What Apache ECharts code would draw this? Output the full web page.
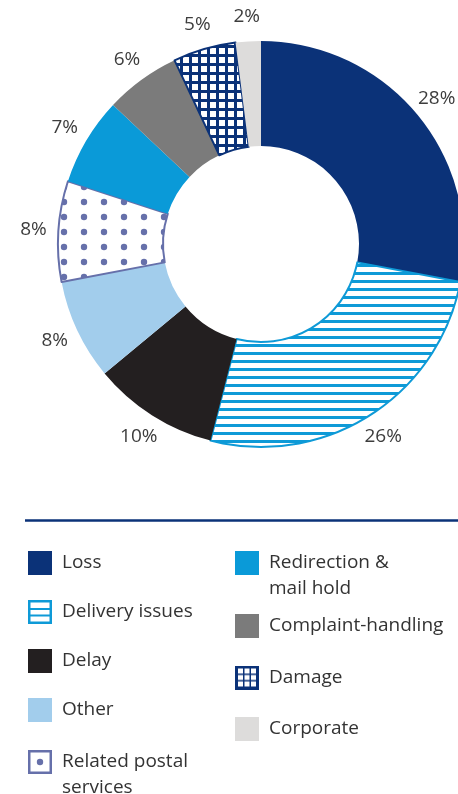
<!DOCTYPE html>
<html>
<head>
<meta charset="utf-8">
<script src="https://cdn.jsdelivr.net/npm/echarts@6/dist/echarts.min.js"></script>
<style>
  html, body { margin: 0; padding: 0; background: #fff; }
  #main { width: 458px; height: 794px; }
</style>
</head>
<body>
<div id="main"></div>
<script>
// complaint categories, clockwise from 12 o'clock
var categories = ['Loss', 'Delivery issues', 'Delay', 'Other', 'Related postal services',
  'Redirection & mail hold', 'Complaint-handling', 'Damage', 'Corporate'];
var shares = [28, 26, 10, 8, 8, 7, 6, 5, 2];
var legendText = ['Loss', 'Delivery issues', 'Delay', 'Other', 'Related postal\nservices',
  'Redirection &\nmail hold', 'Complaint-handling', 'Damage', 'Corporate'];

var navy = '#0b3278';
var cyan = '#0e9ad7';
var dotBlue = '#6670aa';
var font = 'Open Sans';

function tile(w, h, draw) {
  var c = document.createElement('canvas');
  c.width = w;
  c.height = h;
  draw(c.getContext('2d'), w, h);
  return c;
}

// fills for the slices
var stripeTile = tile(8, 8, function (ctx) {
  ctx.fillStyle = '#fff'; ctx.fillRect(0, 0, 8, 8);
  ctx.fillStyle = cyan; ctx.fillRect(0, 0, 8, 3);
});
var dotTile = tile(20, 15, function (ctx) {
  ctx.fillStyle = '#fff'; ctx.fillRect(0, 0, 20, 15);
  ctx.fillStyle = dotBlue; ctx.beginPath(); ctx.arc(4, 7, 3.2, 0, Math.PI * 2); ctx.fill();
});
var gridTile = tile(9, 9, function (ctx) {
  ctx.fillStyle = navy; ctx.fillRect(0, 0, 9, 9);
  ctx.fillStyle = '#fff'; ctx.fillRect(3, 3, 6, 6);
});

// legend icons for the patterned items
var stripeIcon = tile(24, 24, function (ctx) {
  ctx.fillStyle = '#fff'; ctx.fillRect(0, 0, 24, 24);
  ctx.strokeStyle = cyan; ctx.lineWidth = 2.5; ctx.strokeRect(1.25, 1.25, 21.5, 21.5);
  ctx.fillStyle = cyan; ctx.fillRect(0, 8, 24, 2); ctx.fillRect(0, 14.5, 24, 2);
});
var dotIcon = tile(24, 24, function (ctx) {
  ctx.fillStyle = '#fff'; ctx.fillRect(0, 0, 24, 24);
  ctx.strokeStyle = dotBlue; ctx.lineWidth = 2.5; ctx.strokeRect(1.25, 1.25, 21.5, 21.5);
  ctx.fillStyle = dotBlue; ctx.beginPath(); ctx.arc(12, 12, 3.2, 0, Math.PI * 2); ctx.fill();
});
var gridIcon = tile(24, 24, function (ctx) {
  ctx.fillStyle = navy; ctx.fillRect(0, 0, 24, 24);
  ctx.fillStyle = '#fff';
  for (var r = 0; r < 3; r++) {
    for (var c = 0; c < 3; c++) {
      ctx.fillRect(3 + c * 6.5, 3 + r * 6.5, 5, 5);
    }
  }
});

var sliceStyles = [
  { color: navy },
  { color: { image: stripeTile, repeat: 'repeat' }, borderColor: cyan, borderWidth: 2 },
  { color: '#231f20' },
  { color: '#a2cdec' },
  { color: { image: dotTile, repeat: 'repeat' }, borderColor: dotBlue, borderWidth: 2 },
  { color: '#0a9ad8' },
  { color: '#7b7b7b' },
  { color: { image: gridTile, repeat: 'repeat' }, borderColor: navy, borderWidth: 2 },
  { color: '#dddcdb' }
];
var legendIcons = [null, stripeIcon, null, null, dotIcon, null, null, gridIcon, null];

var center = [261, 244];
var labelRadius = 228;
var total = shares.reduce(function (a, b) { return a + b; }, 0);

function legendItem(i) {
  var item = { name: categories[i], icon: 'rect' };
  if (legendIcons[i]) item.icon = 'image://' + legendIcons[i].toDataURL();
  if (legendText[i].indexOf('\n') >= 0) item.textStyle = { lineHeight: 26 };
  return item;
}

// two-line entries get a blank line in front so their first line sits level with the box
function legendLabel(name) {
  var t = legendText[categories.indexOf(name)];
  return t.indexOf('\n') >= 0 ? ' \n' + t : t;
}

function legend(left, top, gap, idx) {
  return {
    orient: 'vertical',
    left: left,
    top: top,
    padding: 0,
    itemWidth: 24,
    itemHeight: 24,
    itemGap: gap,
    selectedMode: false,
    data: idx.map(legendItem),
    formatter: legendLabel,
    textStyle: { fontFamily: font, fontSize: 19, color: '#333', lineHeight: 24, padding: [0, 0, 0, 5] }
  };
}

var chart = echarts.init(document.getElementById('main'));
chart.setOption({
  animation: false,
  legend: [
    legend(28, 551, 25, [0, 1, 2, 3]),
    legend(28, 750 - 27, 25, [4]),
    legend(235, 551 - 27, 25, [5]),
    legend(235, 614, 27.5, [6, 7, 8])
  ],
  graphic: [{
    type: 'line',
    shape: { x1: 25, y1: 520.5, x2: 458, y2: 520.5 },
    style: { stroke: navy, lineWidth: 2.5 }
  }],
  series: [{
    type: 'pie',
    center: center,
    radius: [98, 203],
    startAngle: 90,
    clockwise: true,
    avoidLabelOverlap: false,
    data: categories.map(function (n, i) {
      return { name: n, value: shares[i], itemStyle: sliceStyles[i] };
    }),
    label: {
      show: true,
      position: 'outside',
      formatter: '{c}%',
      fontFamily: font,
      fontSize: 19,
      color: '#3d3d3d'
    },
    labelLine: { show: false },
    labelLayout: function (p) {
      var before = 0;
      for (var i = 0; i < p.dataIndex; i++) before += shares[i];
      var a = (before + shares[p.dataIndex] / 2) / total * Math.PI * 2;
      return {
        x: center[0] + labelRadius * Math.sin(a),
        y: center[1] - labelRadius * Math.cos(a),
        align: 'center',
        verticalAlign: 'middle'
      };
    }
  }]
});
</script>
</body>
</html>
